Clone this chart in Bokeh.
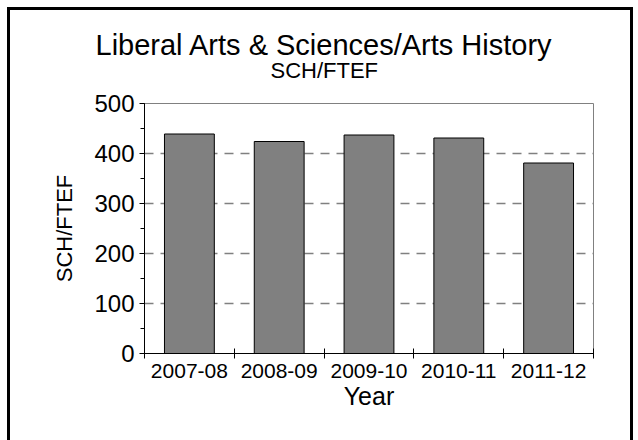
from bokeh.plotting import figure
from bokeh.models import Range1d, FixedTicker, SingleIntervalTicker, Title
from bokeh.embed import file_html
from bokeh.resources import INLINE

# ---- data ----
years = ["2007-08", "2008-09", "2009-10", "2010-11", "2011-12"]
sch_ftef = [439, 424, 437, 431, 381]
y_ticks = [0, 100, 200, 300, 400, 500]
title_text = "Liberal Arts & Sciences/Arts History"
subtitle_text = "SCH/FTEF"
x_label = "Year"
y_label = "SCH/FTEF"

xs = [i + 0.5 for i in range(len(years))]
boundaries = [i for i in range(len(years) + 1)]

FONT = "Liberation Sans"

p = figure(width=638, height=440,
           x_range=Range1d(0, len(years)), y_range=Range1d(0, 500),
           output_backend="svg", toolbar_location=None,
           min_border_left=144, min_border_right=45,
           min_border_top=103, min_border_bottom=87)
p.title.text = ""
p.background_fill_color = "white"
p.border_fill_color = None
p.outline_line_color = "#808080"
p.outline_line_width = 1
# outer frame of the chart (left, top, right edges; bottom is off-page)
p.styles = {
    "background": (
        "linear-gradient(#000,#000) 7px 7px / 3px 600px no-repeat, "
        "linear-gradient(#000,#000) 7px 7px / 626px 3px no-repeat, "
        "linear-gradient(#000,#000) 630px 7px / 3px 600px no-repeat, "
        "#ffffff"
    )
}

p.vbar(x=xs, top=sch_ftef, width=0.555, fill_color="#808080",
       line_color="black", line_width=1)

# grid
p.xgrid.visible = False
p.ygrid.ticker = FixedTicker(ticks=y_ticks[1:-1])
p.ygrid.grid_line_color = "#808080"
p.ygrid.grid_line_width = 1.5
p.ygrid.grid_line_dash = "9 7"

# y axis
yax = p.yaxis[0]
yax.ticker = SingleIntervalTicker(interval=100, num_minor_ticks=2)
yax.axis_line_color = "black"
yax.major_tick_line_color = "black"
yax.major_tick_out = 5
yax.major_tick_in = 0
yax.minor_tick_line_color = "black"
yax.minor_tick_out = 4
yax.minor_tick_in = 0
yax.major_label_text_font = FONT
yax.major_label_text_font_size = "24px"
yax.major_label_text_color = "black"
yax.major_label_standoff = 5
yax.axis_label = y_label
yax.axis_label_text_font = FONT
yax.axis_label_text_font_size = "22px"
yax.axis_label_text_font_style = "normal"
yax.axis_label_text_color = "black"
yax.axis_label_standoff = 14

# x axis
xax = p.xaxis[0]
xax.ticker = FixedTicker(ticks=xs, minor_ticks=boundaries)
xax.major_label_overrides = {x: y for x, y in zip(xs, years)}
xax.axis_line_color = "black"
xax.major_tick_line_color = None
xax.major_tick_out = 0
xax.major_tick_in = 0
xax.minor_tick_line_color = "black"
xax.minor_tick_out = 5
xax.minor_tick_in = 5
xax.major_label_text_font = FONT
xax.major_label_text_font_size = "21px"
xax.major_label_text_color = "black"
xax.major_label_standoff = 5
xax.axis_label = x_label
xax.axis_label_text_font = FONT
xax.axis_label_text_font_size = "25px"
xax.axis_label_text_font_style = "normal"
xax.axis_label_text_color = "black"
xax.axis_label_standoff = 1

# titles (centred on the whole chart box, not the plot area)
sub = Title(text=subtitle_text, align="left", offset=126, text_font=FONT,
            text_font_size="22px", text_font_style="normal",
            text_color="black", standoff=42)
main = Title(text=title_text, align="left", offset=-49, text_font=FONT,
             text_font_size="29px", text_font_style="normal",
             text_color="black", standoff=-52)
p.add_layout(sub, "above")
p.add_layout(main, "above")

open("out.html", "w").write(file_html(p, INLINE))
